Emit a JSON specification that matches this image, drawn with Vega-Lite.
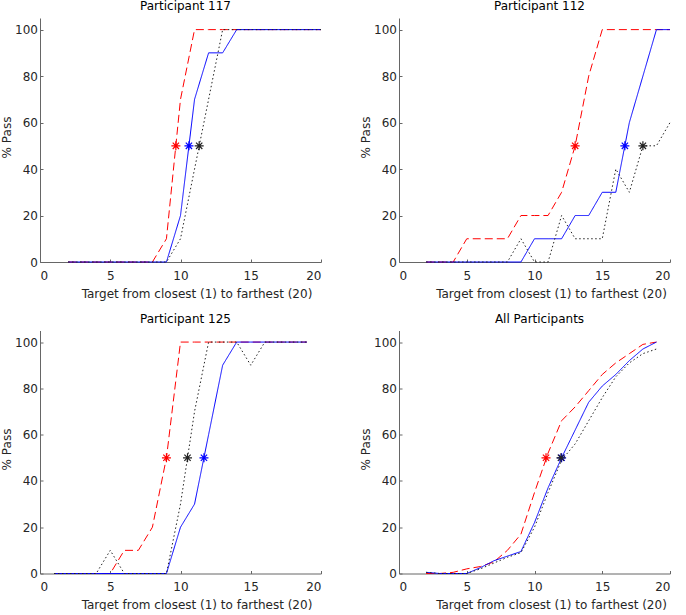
{
  "$schema": "https://vega.github.io/schema/vega-lite/v6.json",
  "padding": {"left": 0, "top": 0, "right": 0, "bottom": 0},
  "background": "white",
  "bounds": "flush",
  "columns": 2,
  "spacing": {"column": 78, "row": 68.5},
  "datasets": {
    "pass": [
      {"panel": "117", "kind": "curve", "condition": "A", "target": 2, "pass": 0},
      {"panel": "117", "kind": "curve", "condition": "A", "target": 3, "pass": 0},
      {"panel": "117", "kind": "curve", "condition": "A", "target": 4, "pass": 0},
      {"panel": "117", "kind": "curve", "condition": "A", "target": 5, "pass": 0},
      {"panel": "117", "kind": "curve", "condition": "A", "target": 6, "pass": 0},
      {"panel": "117", "kind": "curve", "condition": "A", "target": 7, "pass": 0},
      {"panel": "117", "kind": "curve", "condition": "A", "target": 8, "pass": 0},
      {"panel": "117", "kind": "curve", "condition": "A", "target": 9, "pass": 10},
      {"panel": "117", "kind": "curve", "condition": "A", "target": 10, "pass": 70},
      {"panel": "117", "kind": "curve", "condition": "A", "target": 11, "pass": 100},
      {"panel": "117", "kind": "curve", "condition": "A", "target": 12, "pass": 100},
      {"panel": "117", "kind": "curve", "condition": "A", "target": 13, "pass": 100},
      {"panel": "117", "kind": "curve", "condition": "A", "target": 14, "pass": 100},
      {"panel": "117", "kind": "curve", "condition": "A", "target": 15, "pass": 100},
      {"panel": "117", "kind": "curve", "condition": "A", "target": 16, "pass": 100},
      {"panel": "117", "kind": "curve", "condition": "A", "target": 17, "pass": 100},
      {"panel": "117", "kind": "curve", "condition": "A", "target": 18, "pass": 100},
      {"panel": "117", "kind": "curve", "condition": "A", "target": 19, "pass": 100},
      {"panel": "117", "kind": "curve", "condition": "A", "target": 20, "pass": 100},
      {"panel": "117", "kind": "curve", "condition": "B", "target": 2, "pass": 0},
      {"panel": "117", "kind": "curve", "condition": "B", "target": 3, "pass": 0},
      {"panel": "117", "kind": "curve", "condition": "B", "target": 4, "pass": 0},
      {"panel": "117", "kind": "curve", "condition": "B", "target": 5, "pass": 0},
      {"panel": "117", "kind": "curve", "condition": "B", "target": 6, "pass": 0},
      {"panel": "117", "kind": "curve", "condition": "B", "target": 7, "pass": 0},
      {"panel": "117", "kind": "curve", "condition": "B", "target": 8, "pass": 0},
      {"panel": "117", "kind": "curve", "condition": "B", "target": 9, "pass": 0},
      {"panel": "117", "kind": "curve", "condition": "B", "target": 10, "pass": 20},
      {"panel": "117", "kind": "curve", "condition": "B", "target": 11, "pass": 70},
      {"panel": "117", "kind": "curve", "condition": "B", "target": 12, "pass": 90},
      {"panel": "117", "kind": "curve", "condition": "B", "target": 13, "pass": 90},
      {"panel": "117", "kind": "curve", "condition": "B", "target": 14, "pass": 100},
      {"panel": "117", "kind": "curve", "condition": "B", "target": 15, "pass": 100},
      {"panel": "117", "kind": "curve", "condition": "B", "target": 16, "pass": 100},
      {"panel": "117", "kind": "curve", "condition": "B", "target": 17, "pass": 100},
      {"panel": "117", "kind": "curve", "condition": "B", "target": 18, "pass": 100},
      {"panel": "117", "kind": "curve", "condition": "B", "target": 19, "pass": 100},
      {"panel": "117", "kind": "curve", "condition": "B", "target": 20, "pass": 100},
      {"panel": "117", "kind": "curve", "condition": "C", "target": 2, "pass": 0},
      {"panel": "117", "kind": "curve", "condition": "C", "target": 3, "pass": 0},
      {"panel": "117", "kind": "curve", "condition": "C", "target": 4, "pass": 0},
      {"panel": "117", "kind": "curve", "condition": "C", "target": 5, "pass": 0},
      {"panel": "117", "kind": "curve", "condition": "C", "target": 6, "pass": 0},
      {"panel": "117", "kind": "curve", "condition": "C", "target": 7, "pass": 0},
      {"panel": "117", "kind": "curve", "condition": "C", "target": 8, "pass": 0},
      {"panel": "117", "kind": "curve", "condition": "C", "target": 9, "pass": 0},
      {"panel": "117", "kind": "curve", "condition": "C", "target": 10, "pass": 10},
      {"panel": "117", "kind": "curve", "condition": "C", "target": 11, "pass": 40},
      {"panel": "117", "kind": "curve", "condition": "C", "target": 12, "pass": 70},
      {"panel": "117", "kind": "curve", "condition": "C", "target": 13, "pass": 100},
      {"panel": "117", "kind": "curve", "condition": "C", "target": 14, "pass": 100},
      {"panel": "117", "kind": "curve", "condition": "C", "target": 15, "pass": 100},
      {"panel": "117", "kind": "curve", "condition": "C", "target": 16, "pass": 100},
      {"panel": "117", "kind": "curve", "condition": "C", "target": 17, "pass": 100},
      {"panel": "117", "kind": "curve", "condition": "C", "target": 18, "pass": 100},
      {"panel": "117", "kind": "curve", "condition": "C", "target": 19, "pass": 100},
      {"panel": "117", "kind": "curve", "condition": "C", "target": 20, "pass": 100},
      {"panel": "117", "kind": "threshold", "condition": "A", "target": 9.67, "pass": 50},
      {"panel": "117", "kind": "threshold", "condition": "B", "target": 10.6, "pass": 50},
      {"panel": "117", "kind": "threshold", "condition": "C", "target": 11.33, "pass": 50},

      {"panel": "112", "kind": "curve", "condition": "A", "target": 2, "pass": 0},
      {"panel": "112", "kind": "curve", "condition": "A", "target": 3, "pass": 0},
      {"panel": "112", "kind": "curve", "condition": "A", "target": 4, "pass": 0},
      {"panel": "112", "kind": "curve", "condition": "A", "target": 5, "pass": 10},
      {"panel": "112", "kind": "curve", "condition": "A", "target": 6, "pass": 10},
      {"panel": "112", "kind": "curve", "condition": "A", "target": 7, "pass": 10},
      {"panel": "112", "kind": "curve", "condition": "A", "target": 8, "pass": 10},
      {"panel": "112", "kind": "curve", "condition": "A", "target": 9, "pass": 20},
      {"panel": "112", "kind": "curve", "condition": "A", "target": 10, "pass": 20},
      {"panel": "112", "kind": "curve", "condition": "A", "target": 11, "pass": 20},
      {"panel": "112", "kind": "curve", "condition": "A", "target": 12, "pass": 30},
      {"panel": "112", "kind": "curve", "condition": "A", "target": 13, "pass": 50},
      {"panel": "112", "kind": "curve", "condition": "A", "target": 14, "pass": 80},
      {"panel": "112", "kind": "curve", "condition": "A", "target": 15, "pass": 100},
      {"panel": "112", "kind": "curve", "condition": "A", "target": 16, "pass": 100},
      {"panel": "112", "kind": "curve", "condition": "A", "target": 17, "pass": 100},
      {"panel": "112", "kind": "curve", "condition": "A", "target": 18, "pass": 100},
      {"panel": "112", "kind": "curve", "condition": "A", "target": 19, "pass": 100},
      {"panel": "112", "kind": "curve", "condition": "A", "target": 20, "pass": 100},
      {"panel": "112", "kind": "curve", "condition": "B", "target": 2, "pass": 0},
      {"panel": "112", "kind": "curve", "condition": "B", "target": 3, "pass": 0},
      {"panel": "112", "kind": "curve", "condition": "B", "target": 4, "pass": 0},
      {"panel": "112", "kind": "curve", "condition": "B", "target": 5, "pass": 0},
      {"panel": "112", "kind": "curve", "condition": "B", "target": 6, "pass": 0},
      {"panel": "112", "kind": "curve", "condition": "B", "target": 7, "pass": 0},
      {"panel": "112", "kind": "curve", "condition": "B", "target": 8, "pass": 0},
      {"panel": "112", "kind": "curve", "condition": "B", "target": 9, "pass": 0},
      {"panel": "112", "kind": "curve", "condition": "B", "target": 10, "pass": 10},
      {"panel": "112", "kind": "curve", "condition": "B", "target": 11, "pass": 10},
      {"panel": "112", "kind": "curve", "condition": "B", "target": 12, "pass": 10},
      {"panel": "112", "kind": "curve", "condition": "B", "target": 13, "pass": 20},
      {"panel": "112", "kind": "curve", "condition": "B", "target": 14, "pass": 20},
      {"panel": "112", "kind": "curve", "condition": "B", "target": 15, "pass": 30},
      {"panel": "112", "kind": "curve", "condition": "B", "target": 16, "pass": 30},
      {"panel": "112", "kind": "curve", "condition": "B", "target": 17, "pass": 60},
      {"panel": "112", "kind": "curve", "condition": "B", "target": 18, "pass": 80},
      {"panel": "112", "kind": "curve", "condition": "B", "target": 19, "pass": 100},
      {"panel": "112", "kind": "curve", "condition": "B", "target": 20, "pass": 100},
      {"panel": "112", "kind": "curve", "condition": "C", "target": 2, "pass": 0},
      {"panel": "112", "kind": "curve", "condition": "C", "target": 3, "pass": 0},
      {"panel": "112", "kind": "curve", "condition": "C", "target": 4, "pass": 0},
      {"panel": "112", "kind": "curve", "condition": "C", "target": 5, "pass": 0},
      {"panel": "112", "kind": "curve", "condition": "C", "target": 6, "pass": 0},
      {"panel": "112", "kind": "curve", "condition": "C", "target": 7, "pass": 0},
      {"panel": "112", "kind": "curve", "condition": "C", "target": 8, "pass": 0},
      {"panel": "112", "kind": "curve", "condition": "C", "target": 9, "pass": 10},
      {"panel": "112", "kind": "curve", "condition": "C", "target": 10, "pass": 0},
      {"panel": "112", "kind": "curve", "condition": "C", "target": 11, "pass": 0},
      {"panel": "112", "kind": "curve", "condition": "C", "target": 12, "pass": 20},
      {"panel": "112", "kind": "curve", "condition": "C", "target": 13, "pass": 10},
      {"panel": "112", "kind": "curve", "condition": "C", "target": 14, "pass": 10},
      {"panel": "112", "kind": "curve", "condition": "C", "target": 15, "pass": 10},
      {"panel": "112", "kind": "curve", "condition": "C", "target": 16, "pass": 40},
      {"panel": "112", "kind": "curve", "condition": "C", "target": 17, "pass": 30},
      {"panel": "112", "kind": "curve", "condition": "C", "target": 18, "pass": 50},
      {"panel": "112", "kind": "curve", "condition": "C", "target": 19, "pass": 50},
      {"panel": "112", "kind": "curve", "condition": "C", "target": 20, "pass": 60},
      {"panel": "112", "kind": "threshold", "condition": "A", "target": 13, "pass": 50},
      {"panel": "112", "kind": "threshold", "condition": "B", "target": 16.67, "pass": 50},
      {"panel": "112", "kind": "threshold", "condition": "C", "target": 18, "pass": 50},

      {"panel": "125", "kind": "curve", "condition": "A", "target": 1, "pass": 0},
      {"panel": "125", "kind": "curve", "condition": "A", "target": 2, "pass": 0},
      {"panel": "125", "kind": "curve", "condition": "A", "target": 3, "pass": 0},
      {"panel": "125", "kind": "curve", "condition": "A", "target": 4, "pass": 0},
      {"panel": "125", "kind": "curve", "condition": "A", "target": 5, "pass": 0},
      {"panel": "125", "kind": "curve", "condition": "A", "target": 6, "pass": 10},
      {"panel": "125", "kind": "curve", "condition": "A", "target": 7, "pass": 10},
      {"panel": "125", "kind": "curve", "condition": "A", "target": 8, "pass": 20},
      {"panel": "125", "kind": "curve", "condition": "A", "target": 9, "pass": 50},
      {"panel": "125", "kind": "curve", "condition": "A", "target": 10, "pass": 100},
      {"panel": "125", "kind": "curve", "condition": "A", "target": 11, "pass": 100},
      {"panel": "125", "kind": "curve", "condition": "A", "target": 12, "pass": 100},
      {"panel": "125", "kind": "curve", "condition": "A", "target": 13, "pass": 100},
      {"panel": "125", "kind": "curve", "condition": "A", "target": 14, "pass": 100},
      {"panel": "125", "kind": "curve", "condition": "A", "target": 15, "pass": 100},
      {"panel": "125", "kind": "curve", "condition": "A", "target": 16, "pass": 100},
      {"panel": "125", "kind": "curve", "condition": "A", "target": 17, "pass": 100},
      {"panel": "125", "kind": "curve", "condition": "A", "target": 18, "pass": 100},
      {"panel": "125", "kind": "curve", "condition": "A", "target": 19, "pass": 100},
      {"panel": "125", "kind": "curve", "condition": "B", "target": 1, "pass": 0},
      {"panel": "125", "kind": "curve", "condition": "B", "target": 2, "pass": 0},
      {"panel": "125", "kind": "curve", "condition": "B", "target": 3, "pass": 0},
      {"panel": "125", "kind": "curve", "condition": "B", "target": 4, "pass": 0},
      {"panel": "125", "kind": "curve", "condition": "B", "target": 5, "pass": 0},
      {"panel": "125", "kind": "curve", "condition": "B", "target": 6, "pass": 0},
      {"panel": "125", "kind": "curve", "condition": "B", "target": 7, "pass": 0},
      {"panel": "125", "kind": "curve", "condition": "B", "target": 8, "pass": 0},
      {"panel": "125", "kind": "curve", "condition": "B", "target": 9, "pass": 0},
      {"panel": "125", "kind": "curve", "condition": "B", "target": 10, "pass": 20},
      {"panel": "125", "kind": "curve", "condition": "B", "target": 11, "pass": 30},
      {"panel": "125", "kind": "curve", "condition": "B", "target": 12, "pass": 60},
      {"panel": "125", "kind": "curve", "condition": "B", "target": 13, "pass": 90},
      {"panel": "125", "kind": "curve", "condition": "B", "target": 14, "pass": 100},
      {"panel": "125", "kind": "curve", "condition": "B", "target": 15, "pass": 100},
      {"panel": "125", "kind": "curve", "condition": "B", "target": 16, "pass": 100},
      {"panel": "125", "kind": "curve", "condition": "B", "target": 17, "pass": 100},
      {"panel": "125", "kind": "curve", "condition": "B", "target": 18, "pass": 100},
      {"panel": "125", "kind": "curve", "condition": "B", "target": 19, "pass": 100},
      {"panel": "125", "kind": "curve", "condition": "C", "target": 1, "pass": 0},
      {"panel": "125", "kind": "curve", "condition": "C", "target": 2, "pass": 0},
      {"panel": "125", "kind": "curve", "condition": "C", "target": 3, "pass": 0},
      {"panel": "125", "kind": "curve", "condition": "C", "target": 4, "pass": 0},
      {"panel": "125", "kind": "curve", "condition": "C", "target": 5, "pass": 10},
      {"panel": "125", "kind": "curve", "condition": "C", "target": 6, "pass": 0},
      {"panel": "125", "kind": "curve", "condition": "C", "target": 7, "pass": 0},
      {"panel": "125", "kind": "curve", "condition": "C", "target": 8, "pass": 0},
      {"panel": "125", "kind": "curve", "condition": "C", "target": 9, "pass": 0},
      {"panel": "125", "kind": "curve", "condition": "C", "target": 10, "pass": 30},
      {"panel": "125", "kind": "curve", "condition": "C", "target": 11, "pass": 70},
      {"panel": "125", "kind": "curve", "condition": "C", "target": 12, "pass": 100},
      {"panel": "125", "kind": "curve", "condition": "C", "target": 13, "pass": 100},
      {"panel": "125", "kind": "curve", "condition": "C", "target": 14, "pass": 100},
      {"panel": "125", "kind": "curve", "condition": "C", "target": 15, "pass": 90},
      {"panel": "125", "kind": "curve", "condition": "C", "target": 16, "pass": 100},
      {"panel": "125", "kind": "curve", "condition": "C", "target": 17, "pass": 100},
      {"panel": "125", "kind": "curve", "condition": "C", "target": 18, "pass": 100},
      {"panel": "125", "kind": "curve", "condition": "C", "target": 19, "pass": 100},
      {"panel": "125", "kind": "threshold", "condition": "A", "target": 9, "pass": 50},
      {"panel": "125", "kind": "threshold", "condition": "B", "target": 11.67, "pass": 50},
      {"panel": "125", "kind": "threshold", "condition": "C", "target": 10.5, "pass": 50},

      {"panel": "All", "kind": "curve", "condition": "A", "target": 2, "pass": 0},
      {"panel": "All", "kind": "curve", "condition": "A", "target": 3, "pass": 0},
      {"panel": "All", "kind": "curve", "condition": "A", "target": 4, "pass": 0.5},
      {"panel": "All", "kind": "curve", "condition": "A", "target": 5, "pass": 2},
      {"panel": "All", "kind": "curve", "condition": "A", "target": 6, "pass": 3},
      {"panel": "All", "kind": "curve", "condition": "A", "target": 7, "pass": 5},
      {"panel": "All", "kind": "curve", "condition": "A", "target": 8, "pass": 10},
      {"panel": "All", "kind": "curve", "condition": "A", "target": 9, "pass": 17},
      {"panel": "All", "kind": "curve", "condition": "A", "target": 10, "pass": 35},
      {"panel": "All", "kind": "curve", "condition": "A", "target": 11, "pass": 52},
      {"panel": "All", "kind": "curve", "condition": "A", "target": 12, "pass": 66},
      {"panel": "All", "kind": "curve", "condition": "A", "target": 13, "pass": 72},
      {"panel": "All", "kind": "curve", "condition": "A", "target": 14, "pass": 79},
      {"panel": "All", "kind": "curve", "condition": "A", "target": 15, "pass": 86},
      {"panel": "All", "kind": "curve", "condition": "A", "target": 16, "pass": 91},
      {"panel": "All", "kind": "curve", "condition": "A", "target": 17, "pass": 95},
      {"panel": "All", "kind": "curve", "condition": "A", "target": 18, "pass": 99},
      {"panel": "All", "kind": "curve", "condition": "A", "target": 19, "pass": 100},
      {"panel": "All", "kind": "curve", "condition": "B", "target": 2, "pass": 0.5},
      {"panel": "All", "kind": "curve", "condition": "B", "target": 3, "pass": 0},
      {"panel": "All", "kind": "curve", "condition": "B", "target": 4, "pass": 0},
      {"panel": "All", "kind": "curve", "condition": "B", "target": 5, "pass": 0},
      {"panel": "All", "kind": "curve", "condition": "B", "target": 6, "pass": 2.5},
      {"panel": "All", "kind": "curve", "condition": "B", "target": 7, "pass": 5.5},
      {"panel": "All", "kind": "curve", "condition": "B", "target": 8, "pass": 7.5},
      {"panel": "All", "kind": "curve", "condition": "B", "target": 9, "pass": 9.5},
      {"panel": "All", "kind": "curve", "condition": "B", "target": 10, "pass": 22},
      {"panel": "All", "kind": "curve", "condition": "B", "target": 11, "pass": 37},
      {"panel": "All", "kind": "curve", "condition": "B", "target": 12, "pass": 50},
      {"panel": "All", "kind": "curve", "condition": "B", "target": 13, "pass": 62},
      {"panel": "All", "kind": "curve", "condition": "B", "target": 14, "pass": 74},
      {"panel": "All", "kind": "curve", "condition": "B", "target": 15, "pass": 81},
      {"panel": "All", "kind": "curve", "condition": "B", "target": 16, "pass": 86},
      {"panel": "All", "kind": "curve", "condition": "B", "target": 17, "pass": 92},
      {"panel": "All", "kind": "curve", "condition": "B", "target": 18, "pass": 97},
      {"panel": "All", "kind": "curve", "condition": "B", "target": 19, "pass": 100},
      {"panel": "All", "kind": "curve", "condition": "C", "target": 2, "pass": 0.5},
      {"panel": "All", "kind": "curve", "condition": "C", "target": 3, "pass": 0},
      {"panel": "All", "kind": "curve", "condition": "C", "target": 4, "pass": 0},
      {"panel": "All", "kind": "curve", "condition": "C", "target": 5, "pass": 0},
      {"panel": "All", "kind": "curve", "condition": "C", "target": 6, "pass": 2},
      {"panel": "All", "kind": "curve", "condition": "C", "target": 7, "pass": 4.5},
      {"panel": "All", "kind": "curve", "condition": "C", "target": 8, "pass": 7},
      {"panel": "All", "kind": "curve", "condition": "C", "target": 9, "pass": 9},
      {"panel": "All", "kind": "curve", "condition": "C", "target": 10, "pass": 20},
      {"panel": "All", "kind": "curve", "condition": "C", "target": 11, "pass": 35},
      {"panel": "All", "kind": "curve", "condition": "C", "target": 12, "pass": 49},
      {"panel": "All", "kind": "curve", "condition": "C", "target": 13, "pass": 56},
      {"panel": "All", "kind": "curve", "condition": "C", "target": 14, "pass": 66},
      {"panel": "All", "kind": "curve", "condition": "C", "target": 15, "pass": 76},
      {"panel": "All", "kind": "curve", "condition": "C", "target": 16, "pass": 85},
      {"panel": "All", "kind": "curve", "condition": "C", "target": 17, "pass": 91},
      {"panel": "All", "kind": "curve", "condition": "C", "target": 18, "pass": 95},
      {"panel": "All", "kind": "curve", "condition": "C", "target": 19, "pass": 97},
      {"panel": "All", "kind": "threshold", "condition": "A", "target": 10.85, "pass": 50},
      {"panel": "All", "kind": "threshold", "condition": "B", "target": 12.0, "pass": 50},
      {"panel": "All", "kind": "threshold", "condition": "C", "target": 11.95, "pass": 50}
    ]
  },
  "data": {"name": "pass"},
  "concat": [
    {
      "title": "Participant 117",
      "width": 281,
      "height": 244,
      "transform": [{"filter": "datum.panel == '117'"}],
      "encoding": {
        "x": {"field": "target", "type": "quantitative", "scale": {"domain": [0, 20], "nice": false},
              "axis": {"values": [0, 5, 10, 15, 20], "title": "Target from closest (1) to farthest (20)", "titleX": 156.5, "titleY": 35}},
        "y": {"field": "pass", "type": "quantitative", "scale": {"domain": [0, 105], "nice": false},
              "axis": {"values": [0, 20, 40, 60, 80, 100], "title": "% Pass", "titleX": -30, "titleY": 119}}
      },
      "layer": [
        {
          "transform": [{"filter": "datum.kind == 'curve'"}],
          "mark": {"type": "line", "strokeWidth": 1},
          "encoding": {
            "color": {"field": "condition", "type": "nominal", "scale": {"domain": ["A", "B", "C"], "range": ["#ff0000", "#0000ff", "#222222"]}, "legend": null},
            "strokeDash": {"field": "condition", "type": "nominal", "scale": {"domain": ["A", "B", "C"], "range": [[8, 4], [1, 0], [1.5, 2.5]]}, "legend": null}
          }
        },
        {
          "transform": [{"filter": "datum.kind == 'threshold'"}],
          "mark": {"type": "point", "shape": "M -1 0 L 1 0 M 0 -1 L 0 1 M -0.7 -0.7 L 0.7 0.7 M -0.7 0.7 L 0.7 -0.7", "filled": false, "size": 81, "strokeWidth": 1.2, "opacity": 1},
          "encoding": {
            "color": {"field": "condition", "type": "nominal", "scale": {"domain": ["A", "B", "C"], "range": ["#ff0000", "#0000ff", "#000000"]}, "legend": null}
          }
        }
      ]
    },
    {
      "title": "Participant 112",
      "width": 271,
      "height": 244,
      "transform": [{"filter": "datum.panel == '112'"}],
      "encoding": {
        "x": {"field": "target", "type": "quantitative", "scale": {"domain": [0, 20], "nice": false},
              "axis": {"values": [0, 5, 10, 15, 20], "title": "Target from closest (1) to farthest (20)", "titleX": 152, "titleY": 35}},
        "y": {"field": "pass", "type": "quantitative", "scale": {"domain": [0, 105], "nice": false},
              "axis": {"values": [0, 20, 40, 60, 80, 100], "title": "% Pass", "titleX": -30, "titleY": 119}}
      },
      "layer": [
        {
          "transform": [{"filter": "datum.kind == 'curve'"}],
          "mark": {"type": "line", "strokeWidth": 1},
          "encoding": {
            "color": {"field": "condition", "type": "nominal", "scale": {"domain": ["A", "B", "C"], "range": ["#ff0000", "#0000ff", "#222222"]}, "legend": null},
            "strokeDash": {"field": "condition", "type": "nominal", "scale": {"domain": ["A", "B", "C"], "range": [[8, 4], [1, 0], [1.5, 2.5]]}, "legend": null}
          }
        },
        {
          "transform": [{"filter": "datum.kind == 'threshold'"}],
          "mark": {"type": "point", "shape": "M -1 0 L 1 0 M 0 -1 L 0 1 M -0.7 -0.7 L 0.7 0.7 M -0.7 0.7 L 0.7 -0.7", "filled": false, "size": 81, "strokeWidth": 1.2, "opacity": 1},
          "encoding": {
            "color": {"field": "condition", "type": "nominal", "scale": {"domain": ["A", "B", "C"], "range": ["#ff0000", "#0000ff", "#000000"]}, "legend": null}
          }
        }
      ]
    },
    {
      "title": "Participant 125",
      "width": 281,
      "height": 243,
      "transform": [{"filter": "datum.panel == '125'"}],
      "encoding": {
        "x": {"field": "target", "type": "quantitative", "scale": {"domain": [0, 20], "nice": false},
              "axis": {"values": [0, 5, 10, 15, 20], "title": "Target from closest (1) to farthest (20)", "titleX": 156.5, "titleY": 35}},
        "y": {"field": "pass", "type": "quantitative", "scale": {"domain": [0, 105], "nice": false},
              "axis": {"values": [0, 20, 40, 60, 80, 100], "title": "% Pass", "titleX": -30, "titleY": 118.5}}
      },
      "layer": [
        {
          "transform": [{"filter": "datum.kind == 'curve'"}],
          "mark": {"type": "line", "strokeWidth": 1},
          "encoding": {
            "color": {"field": "condition", "type": "nominal", "scale": {"domain": ["A", "B", "C"], "range": ["#ff0000", "#0000ff", "#222222"]}, "legend": null},
            "strokeDash": {"field": "condition", "type": "nominal", "scale": {"domain": ["A", "B", "C"], "range": [[8, 4], [1, 0], [1.5, 2.5]]}, "legend": null}
          }
        },
        {
          "transform": [{"filter": "datum.kind == 'threshold'"}],
          "mark": {"type": "point", "shape": "M -1 0 L 1 0 M 0 -1 L 0 1 M -0.7 -0.7 L 0.7 0.7 M -0.7 0.7 L 0.7 -0.7", "filled": false, "size": 81, "strokeWidth": 1.2, "opacity": 1},
          "encoding": {
            "color": {"field": "condition", "type": "nominal", "scale": {"domain": ["A", "B", "C"], "range": ["#ff0000", "#0000ff", "#000000"]}, "legend": null}
          }
        }
      ]
    },
    {
      "title": "All Participants",
      "width": 271,
      "height": 243,
      "transform": [{"filter": "datum.panel == 'All'"}],
      "encoding": {
        "x": {"field": "target", "type": "quantitative", "scale": {"domain": [0, 20], "nice": false},
              "axis": {"values": [0, 5, 10, 15, 20], "title": "Target from closest (1) to farthest (20)", "titleX": 152, "titleY": 35}},
        "y": {"field": "pass", "type": "quantitative", "scale": {"domain": [0, 105], "nice": false},
              "axis": {"values": [0, 20, 40, 60, 80, 100], "title": "% Pass", "titleX": -30, "titleY": 118.5}}
      },
      "layer": [
        {
          "transform": [{"filter": "datum.kind == 'curve'"}],
          "mark": {"type": "line", "strokeWidth": 1},
          "encoding": {
            "color": {"field": "condition", "type": "nominal", "scale": {"domain": ["A", "B", "C"], "range": ["#ff0000", "#0000ff", "#222222"]}, "legend": null},
            "strokeDash": {"field": "condition", "type": "nominal", "scale": {"domain": ["A", "B", "C"], "range": [[8, 4], [1, 0], [1.5, 2.5]]}, "legend": null}
          }
        },
        {
          "transform": [{"filter": "datum.kind == 'threshold'"}],
          "mark": {"type": "point", "shape": "M -1 0 L 1 0 M 0 -1 L 0 1 M -0.7 -0.7 L 0.7 0.7 M -0.7 0.7 L 0.7 -0.7", "filled": false, "size": 81, "strokeWidth": 1.2, "opacity": 1},
          "encoding": {
            "color": {"field": "condition", "type": "nominal", "scale": {"domain": ["A", "B", "C"], "range": ["#ff0000", "#0000ff", "#000000"]}, "legend": null}
          }
        }
      ]
    }
  ],
  "resolve": {"scale": {"color": "independent"}},
  "config": {
    "font": "DejaVu Sans",
    "view": {"stroke": null},
    "axis": {
      "grid": false,
      "domainColor": "#666666",
      "tickColor": "#666666",
      "tickSize": -3,
      "labelColor": "#262626",
      "labelFont": "DejaVu Sans",
      "labelFontSize": 12,
      "titleColor": "#262626",
      "titleFont": "DejaVu Sans",
      "titleFontSize": 12,
      "titleFontWeight": "normal",
      "titleBaseline": "alphabetic"
    },
    "axisX": {"labelPadding": 11},
    "axisY": {"labelPadding": 5.5},
    "title": {"font": "DejaVu Sans", "fontSize": 12, "fontWeight": "normal", "color": "#000000", "offset": 5, "dx": 5, "baseline": "alphabetic"}
  }
}
